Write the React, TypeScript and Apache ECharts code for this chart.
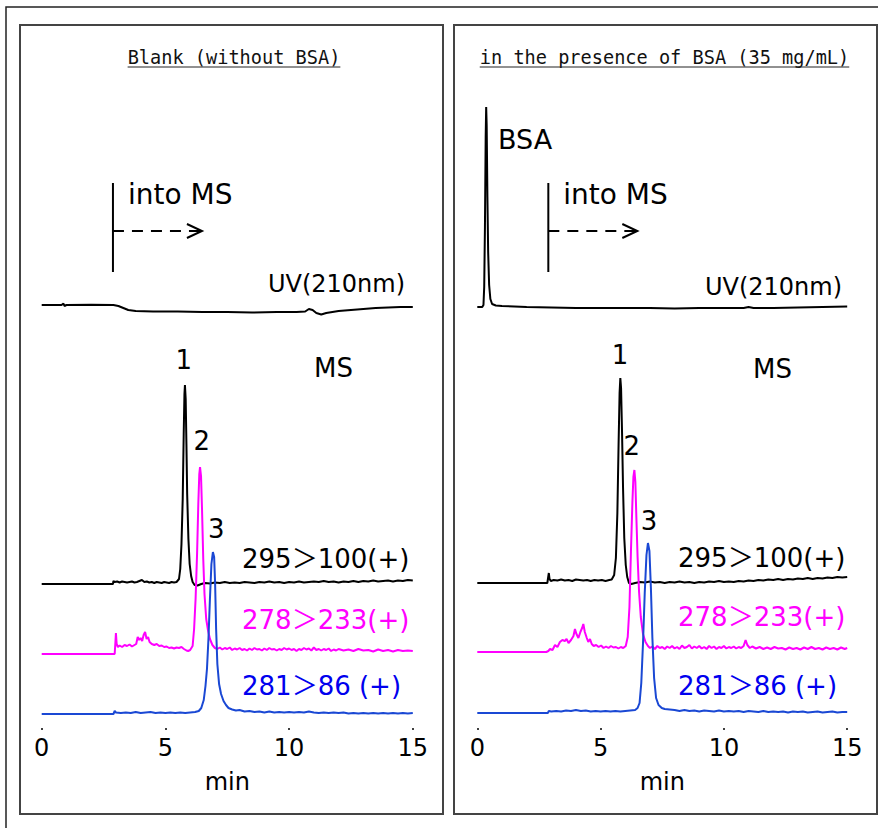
import { useEffect, useRef } from "react";
import * as echarts from "echarts";

// ---------- axis ----------
const TIME_MIN = 0;
const TIME_MAX = 15;
const TIME_STEP = 5; // tick labels 0, 5, 10, 15

// ---------- Blank (without BSA) : [min, signal] ----------
const blankUv = [[0,0],[0.8,0],[0.88,1.5],[0.92,-1],[1,0],[2,0.3],[2.9,0],[3.1,-1],[3.3,-3],[3.5,-5],[3.8,-6],[4.5,-6.5],[5.5,-6.5],[6.5,-7],[7.5,-7],[8.5,-7.5],[9.5,-7],[10.3,-7],[10.65,-6.5],[10.8,-4],[10.95,-5],[11.1,-8],[11.3,-9.5],[11.5,-8],[12,-6],[12.5,-5],[13,-4],[13.5,-3],[14,-2.5],[14.5,-2],[15,-2]];

const blank295 = [[0,0],[2.88,0],[2.9,3],[2.95,2],[3.05,2.5],[3.15,1.5],[3.25,2.5],[3.35,2],[3.45,1.5],[3.55,2],[3.65,2.5],[3.75,1.5],[3.85,2],[3.95,3],[4.05,4],[4.15,2],[4.25,2.5],[4.35,1.5],[4.45,2],[4.55,1],[4.65,2],[4.75,1.5],[4.85,1],[4.95,2],[5.05,1.5],[5.15,1],[5.25,2],[5.35,1.5],[5.45,2],[5.55,5],[5.6,15],[5.65,40],[5.7,85],[5.74,150],[5.77,190],[5.79,199],[5.82,185],[5.85,140],[5.88,90],[5.93,45],[5.98,20],[6.04,8],[6.1,2],[6.18,-1],[6.3,-1.5],[6.45,0],[6.6,1],[6.8,0.5],[7.0,1.5],[7.2,1],[7.4,2],[7.6,1],[7.8,1.5],[8.0,1],[8.2,2],[8.4,1.5],[8.6,1],[8.8,2],[9.0,1.5],[9.2,2.5],[9.4,1.5],[9.6,2],[9.8,1],[10.0,2],[10.2,1.5],[10.4,2.5],[10.6,1.5],[10.8,2],[11.0,2.5],[11.2,2],[11.4,3],[11.6,2],[11.8,2.5],[12.0,1.5],[12.2,2.5],[12.4,2],[12.6,3],[12.8,2],[13.0,3],[13.2,2.5],[13.4,3.5],[13.6,2.5],[13.8,3],[14.0,3.5],[14.2,2.5],[14.4,3.5],[14.6,3],[14.8,4],[15,3.5]];

const blank278 = [[0,0],[2.95,0],[2.98,12],[3.0,21],[3.03,10],[3.08,7],[3.15,8.5],[3.25,7],[3.35,9],[3.45,8],[3.55,9.5],[3.65,7.5],[3.75,9],[3.82,10],[3.88,17],[3.94,14],[4.0,16],[4.06,13],[4.12,19],[4.18,22],[4.24,15],[4.3,17],[4.36,12],[4.45,10],[4.55,9],[4.65,10],[4.75,8],[4.85,8.5],[4.95,7],[5.05,7.5],[5.15,6],[5.25,6.5],[5.35,5.5],[5.45,6.5],[5.55,6],[5.65,7],[5.75,5],[5.85,3.5],[5.92,3],[6.0,4],[6.1,8],[6.16,25],[6.22,55],[6.28,100],[6.33,150],[6.37,180],[6.4,187],[6.44,178],[6.48,145],[6.53,95],[6.58,60],[6.65,35],[6.72,24],[6.8,15],[6.9,9],[7.0,6],[7.1,5],[7.2,6.5],[7.3,4.5],[7.4,6],[7.5,5],[7.6,6.5],[7.7,4],[7.8,5.5],[7.9,4.5],[8.0,6],[8.1,4],[8.2,5],[8.3,3.5],[8.4,5.5],[8.5,4],[8.6,6],[8.7,4.5],[8.8,5],[8.9,3.5],[9.0,5.5],[9.1,4],[9.2,6],[9.3,4.5],[9.4,5],[9.5,3.5],[9.6,5],[9.7,4],[9.8,6],[9.9,4.5],[10.0,5.5],[10.1,4],[10.2,5],[10.3,3],[10.4,5],[10.5,4],[10.6,6],[10.7,4.5],[10.8,5.5],[10.9,3.5],[11.0,6.5],[11.1,4],[11.2,5],[11.3,3.5],[11.4,5],[11.5,4],[11.6,5.5],[11.7,3],[11.8,4.5],[11.9,3.5],[12.0,5],[12.2,3.5],[12.4,4.5],[12.6,3],[12.8,5],[13.0,3.5],[13.2,4],[13.4,2.5],[13.6,4.5],[13.8,3],[14.0,4],[14.2,2.5],[14.4,4],[14.6,3],[14.8,3.5],[15,3]];

const blank281 = [[0,0],[2.9,0],[2.95,3],[3.0,1.5],[3.2,1],[3.4,1.5],[3.6,1],[3.8,2],[4.0,1],[4.2,1.5],[4.4,2],[4.6,1],[4.8,1.5],[5.0,1],[5.2,1.5],[5.4,1],[5.6,1.5],[5.8,1],[6.0,1.5],[6.2,2],[6.35,3],[6.45,6],[6.55,14],[6.62,28],[6.68,45],[6.74,75],[6.8,115],[6.86,150],[6.92,162],[6.97,157],[7.01,130],[7.05,85],[7.1,50],[7.17,30],[7.25,20],[7.35,13],[7.45,9],[7.55,6],[7.7,4.5],[7.85,3.5],[8.0,4],[8.2,2.5],[8.4,3],[8.6,2],[8.8,2.5],[9.0,1.5],[9.2,2.5],[9.4,1.5],[9.6,2],[9.8,1.5],[10.0,2],[10.2,1.5],[10.4,2],[10.6,1.5],[10.8,2.5],[11.0,1.5],[11.2,1],[11.4,1.5],[11.6,1],[11.8,1.5],[12.0,1],[12.2,1.5],[12.4,0.5],[12.6,1],[12.8,0.5],[13.0,1],[13.2,0.5],[13.4,1],[13.6,0.5],[13.8,1],[14.0,0.5],[14.2,1],[14.4,0.5],[14.6,1],[14.8,0.5],[15,1]];

// ---------- in the presence of BSA (35 mg/mL) : [min, signal] ----------
const bsaUv = [[0,0],[0.2,0],[0.25,2],[0.28,20],[0.31,80],[0.34,170],[0.36,200],[0.38,182],[0.41,110],[0.44,55],[0.48,22],[0.53,8],[0.6,3],[0.75,1.5],[1,1],[1.5,0.5],[2,0],[3,-0.5],[4,-1],[5,-1],[6,-1],[7,-1],[8,-1.5],[9,-1],[10,-1],[10.8,-1],[11,0],[11.2,-1],[12,-1],[13,-0.5],[14,0],[15,0.5]];

const bsa295 = [[0,0],[2.84,0],[2.87,5],[2.9,10],[2.93,4],[2.98,2],[3.1,3],[3.25,2.5],[3.4,3.5],[3.55,2.5],[3.7,3],[3.85,2],[4.0,3.5],[4.15,3],[4.3,2.5],[4.45,3],[4.6,2],[4.75,3],[4.9,2.5],[5.05,3],[5.2,2],[5.35,3],[5.45,3.5],[5.55,8],[5.62,25],[5.68,70],[5.73,140],[5.77,190],[5.8,205],[5.83,195],[5.87,150],[5.91,95],[5.96,45],[6.02,18],[6.08,6],[6.15,0],[6.25,-1],[6.4,0],[6.6,1],[6.8,0.5],[7.0,1.5],[7.2,0.5],[7.4,1],[7.6,0],[7.8,1],[8.0,0.5],[8.2,1.5],[8.4,0.5],[8.6,1],[8.8,0],[9.0,1],[9.2,0.5],[9.4,1.5],[9.6,1],[9.8,2],[10.0,1],[10.2,1.5],[10.4,1],[10.6,2],[10.8,1.5],[11.0,2.5],[11.2,2],[11.4,3],[11.6,2.5],[11.8,3.5],[12.0,3],[12.2,4],[12.4,3],[12.6,4],[12.8,3.5],[13.0,4.5],[13.2,4],[13.4,5],[13.6,4],[13.8,5],[14.0,4.5],[14.2,5.5],[14.4,5],[14.6,6],[14.8,5.5],[15,6]];

const bsa278 = [[0,0],[2.8,0],[2.88,1],[2.95,3],[3.05,2],[3.15,7],[3.25,5],[3.35,10],[3.45,12],[3.55,11],[3.62,13],[3.7,9],[3.8,12],[3.9,16],[3.96,23],[4.02,18],[4.1,14],[4.18,20],[4.25,24],[4.3,28],[4.36,20],[4.44,14],[4.5,10],[4.57,13],[4.64,8],[4.72,6],[4.82,7],[4.92,5],[5.02,6.5],[5.12,4],[5.22,5.5],[5.32,4],[5.42,6],[5.52,4.5],[5.62,5],[5.72,3.5],[5.82,5],[5.92,4],[6.02,6],[6.1,15],[6.17,45],[6.23,100],[6.29,150],[6.33,175],[6.37,182],[6.41,170],[6.45,135],[6.5,95],[6.56,60],[6.63,35],[6.72,18],[6.82,10],[6.92,6],[7.0,4],[7.1,5.5],[7.2,3],[7.3,6],[7.4,4],[7.5,5],[7.6,3],[7.7,5.5],[7.8,4],[7.9,6],[8.0,3.5],[8.1,5],[8.2,3],[8.3,6.5],[8.4,4],[8.5,5],[8.6,7],[8.7,3.5],[8.8,5.5],[8.9,4],[9.0,6],[9.1,3.5],[9.2,5],[9.3,3],[9.4,6],[9.5,4],[9.6,5.5],[9.7,3],[9.8,5],[9.9,4],[10.0,6],[10.1,3.5],[10.2,5],[10.3,4],[10.4,5.5],[10.5,3.5],[10.6,5],[10.7,4],[10.8,6],[10.88,12],[10.95,7],[11.05,4],[11.15,5.5],[11.3,3.5],[11.45,5],[11.6,3],[11.75,4.5],[11.9,3],[12.05,5],[12.2,3.5],[12.35,4],[12.5,2.5],[12.65,4.5],[12.8,3],[12.95,4],[13.1,2.5],[13.25,4.5],[13.4,3],[13.55,5],[13.7,3],[13.85,4],[14.0,2.5],[14.15,4.5],[14.3,3],[14.45,4],[14.6,2.5],[14.75,4.5],[14.9,3],[15,4]];

const bsa281 = [[0,0],[2.86,0],[2.9,2],[3.0,1.5],[3.2,2],[3.4,1.5],[3.6,2.5],[3.8,2],[4.0,3],[4.2,2],[4.4,2.5],[4.6,1.5],[4.8,2],[5.0,1.5],[5.2,2],[5.4,1.5],[5.6,2],[5.8,1.5],[6.0,2],[6.2,2.5],[6.4,3],[6.5,5],[6.58,10],[6.65,30],[6.72,70],[6.79,120],[6.86,158],[6.92,170],[6.98,162],[7.04,125],[7.1,75],[7.17,35],[7.25,15],[7.35,8],[7.48,5],[7.6,4],[7.8,3.5],[8.0,3],[8.2,2],[8.4,3],[8.6,2],[8.8,2.5],[9.0,1.5],[9.2,2.5],[9.4,2],[9.6,1.5],[9.8,2.5],[10.0,1.5],[10.2,2],[10.4,1.5],[10.6,2],[10.8,1],[11.0,2],[11.2,1.5],[11.4,1],[11.6,2],[11.8,1],[12.0,1.5],[12.2,1],[12.4,1.5],[12.6,0.5],[12.8,1.5],[13.0,1],[13.2,1.5],[13.4,0.5],[13.6,1],[13.8,1.5],[14.0,0.5],[14.2,1],[14.4,1.5],[14.6,0.5],[14.8,1],[15,1]];

// ---------- labels ----------
const panelTitles = ["Blank (without BSA)", "in the presence of BSA (35 mg/mL)"];
const traceLabels = ["295＞100(+)", "278＞233(+)", "281＞86 (+)"];
const peakLabels = ["1", "2", "3"];
const MS_START = 2.88; // min, valve switch "into MS"

// ---------- layout / style (kept apart from data) ----------
const W = 878;
const H = 828;
const PLOT_TOP = 80;
const PLOT_H = 648;
const GRIDS = [
  { left: 41.7, width: 371.1 },
  { left: 477.3, width: 369.9 },
];
const OFFSETS = [
  [423, 144, 74, 14],
  [421, 145, 76, 15],
];
const LINE_COLORS = ["#000000", "#000000", "#ff00ff", "#1a48d4"];
const TEXT_COLORS = ["#000000", "#ff00ff", "#0000ee"];
const SANS = "'DejaVu Sans', 'Noto Sans CJK JP', sans-serif";
const MONO = "'DejaVu Sans Mono', monospace";

const xPix = (p: number, t: number) =>
  GRIDS[p].left + ((t - TIME_MIN) / (TIME_MAX - TIME_MIN)) * GRIDS[p].width;

function txt(x: number, y: number, text: string, size: number, fill = "#000", align = "left", family = SANS) {
  return {
    type: "text",
    x,
    y,
    silent: true,
    z: 10,
    style: {
      text,
      fill,
      fontSize: size,
      fontFamily: family,
      align,
      verticalAlign: "middle",
      textAlign: align,
      textVerticalAlign: "middle",
    },
  };
}

function line(x1: number, y1: number, x2: number, y2: number, dash?: number[], w = 2, color = "#000") {
  return {
    type: "line",
    silent: true,
    z: 10,
    shape: { x1, y1, x2, y2 },
    style: { stroke: color, lineWidth: w, lineDash: dash },
  };
}

function buildOption() {
  const panels = [
    [blankUv, blank295, blank278, blank281],
    [bsaUv, bsa295, bsa278, bsa281],
  ];
  const series: any[] = [];
  panels.forEach((traces, p) => {
    traces.forEach((data, k) => {
      series.push({
        type: "line",
        xAxisIndex: p,
        yAxisIndex: p,
        data: data.map(([t, v]) => [t, v + OFFSETS[p][k]]),
        showSymbol: false,
        symbol: "none",
        silent: true,
        lineStyle: { color: LINE_COLORS[k], width: 2 },
        z: 2 + k,
      });
    });
  });

  const graphic: any[] = [
    { type: "rect", silent: true, shape: { x: 6, y: 7, width: 900, height: 900 }, style: { fill: "none", stroke: "#222", lineWidth: 1.5 } },
    { type: "rect", silent: true, shape: { x: 20, y: 25, width: 423, height: 789 }, style: { fill: "none", stroke: "#444", lineWidth: 2 } },
    { type: "rect", silent: true, shape: { x: 454, y: 25, width: 423, height: 789 }, style: { fill: "none", stroke: "#444", lineWidth: 2 } },
  ];

  // titles with underline
  const titleFont = 18.6;
  const titleCenters = [234, 664.5];
  panelTitles.forEach((t, p) => {
    const w = t.length * 0.602 * titleFont;
    graphic.push(txt(titleCenters[p], 57, t, titleFont, "#111", "center", MONO));
    graphic.push(line(titleCenters[p] - w / 2, 67, titleCenters[p] + w / 2, 67, undefined, 1, "#222"));
  });

  // "into MS" marker
  [0, 1].forEach((p) => {
    const xv = xPix(p, MS_START);
    graphic.push(line(xv, 183, xv, 272));
    graphic.push(line(xv, 231, xv + 70, 231, [11, 8]));
    graphic.push(line(xv + 76, 231, xv + 88, 231));
    graphic.push({
      type: "polyline",
      silent: true,
      z: 10,
      shape: { points: [[xv + 74, 224], [xv + 89, 231], [xv + 74, 238]] },
      style: { stroke: "#000", lineWidth: 2, fill: "none" },
    });
    graphic.push(txt(xv + 15, 194.5, "into MS", 28));
  });

  graphic.push(txt(405, 284, "UV(210nm)", 24, "#000", "right"));
  graphic.push(txt(842, 287, "UV(210nm)", 24, "#000", "right"));
  graphic.push(txt(498, 139, "BSA", 27));
  graphic.push(txt(314, 368, "MS", 26));
  graphic.push(txt(753, 369, "MS", 26));

  const peakPos = [
    [[183.7, 359.7], [201.7, 441], [216.3, 529]],
    [[620, 355], [631.7, 446.3], [649, 520.8]],
  ];
  peakPos.forEach((pp) => pp.forEach(([x, y], i) => graphic.push(txt(x, y, peakLabels[i], 26, "#000", "center"))));

  const labelX = [242, 678];
  const labelY = [
    [559, 620, 686],
    [557.5, 617, 686],
  ];
  [0, 1].forEach((p) =>
    traceLabels.forEach((t, i) => graphic.push(txt(labelX[p], labelY[p][i], t, 26, TEXT_COLORS[i])))
  );

  return {
    animation: false,
    backgroundColor: "#ffffff",
    grid: GRIDS.map((g) => ({ left: g.left, width: g.width, top: PLOT_TOP, height: PLOT_H, containLabel: false })),
    xAxis: GRIDS.map((_, i) => ({
      gridIndex: i,
      type: "value",
      min: TIME_MIN,
      max: TIME_MAX,
      interval: TIME_STEP,
      axisLine: { show: false },
      axisTick: { show: true, length: 2, lineStyle: { color: "#000", width: 1.5 } },
      splitLine: { show: false },
      axisLabel: { fontSize: 24, color: "#000", fontFamily: SANS, margin: 8 },
      name: "min",
      nameLocation: "middle",
      nameGap: 42,
      nameTextStyle: { fontSize: 24, color: "#000", fontFamily: SANS },
    })),
    yAxis: GRIDS.map((_, i) => ({ gridIndex: i, type: "value", min: 0, max: PLOT_H, show: false })),
    series,
    graphic,
  };
}

export default function App() {
  const ref = useRef<HTMLDivElement>(null);
  useEffect(() => {
    if (!ref.current) return;
    const chart = echarts.init(ref.current, null, { renderer: "svg", width: W, height: H });
    chart.setOption(buildOption() as any);
    return () => chart.dispose();
  }, []);
  return (
    <div
      ref={ref}
      style={{ position: "fixed", left: 0, top: 0, width: W, height: H, background: "#fff" }}
    />
  );
}
